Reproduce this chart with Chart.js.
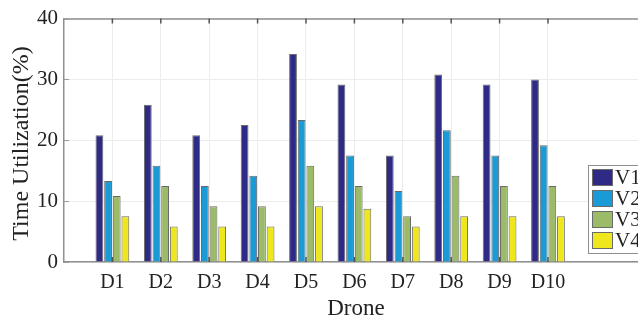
<!DOCTYPE html>
<html>
<head>
<meta charset="utf-8">
<script src="https://cdn.jsdelivr.net/npm/chart.js@4/dist/chart.umd.min.js"></script>
<style>
  html, body { margin: 0; padding: 0; background: #ffffff; }
  #wrap { width: 638px; height: 321px; }
</style>
</head>
<body>
<div id="wrap"><canvas id="c" width="638" height="321"></canvas></div>
<script>
// Drones on the x axis
const drones = ['D1', 'D2', 'D3', 'D4', 'D5', 'D6', 'D7', 'D8', 'D9', 'D10'];
// Time utilization (%) per drone for each vehicle
const v1 = [20.83, 25.83, 20.83, 22.5, 34.17, 29.17, 17.5, 30.83, 29.17, 30.0];
const v2 = [13.33, 15.83, 12.5, 14.17, 23.33, 17.5, 11.67, 21.67, 17.5, 19.17];
const v3 = [10.83, 12.5, 9.17, 9.17, 15.83, 12.5, 7.5, 14.17, 12.5, 12.5];
const v4 = [7.5, 5.83, 5.83, 5.83, 9.17, 8.75, 5.83, 7.5, 7.5, 7.5];
const seriesNames = ['V1', 'V2', 'V3', 'V4'];
const seriesColors = ['#2f2a86', '#1b9bd6', '#9bbb69', '#efe71d'];
const yTicks = [0, 10, 20, 30, 40];
const xTitle = 'Drone';
const yTitle = 'Time Utilization(%)';

const serif = "'Liberation Serif', 'Times New Roman', serif";

function toPoints(arr) {
  return arr.map((v, i) => ({ x: i + 1, y: v }));
}

const datasets = [v1, v2, v3, v4].map((arr, k) => ({
  label: seriesNames[k],
  data: toPoints(arr),
  backgroundColor: seriesColors[k],
  borderColor: '#6a6a6a',
  borderWidth: 1,
  categoryPercentage: 0.715,
  barPercentage: 0.9
}));

// Inward tick marks, top frame line, axis titles and the boxed legend
const frame = {
  id: 'frame',
  afterDatasetsDraw(chart) {
    const { ctx, chartArea: a, scales } = chart;
    ctx.save();
    // top border of the axes box
    ctx.strokeStyle = '#8f8f8f';
    ctx.lineWidth = 1.5;
    ctx.beginPath();
    ctx.moveTo(a.left, a.top + 0.5);
    ctx.lineTo(a.right, a.top + 0.5);
    ctx.stroke();
    // x tick marks pointing inward
    ctx.strokeStyle = '#555555';
    ctx.lineWidth = 1.5;
    drones.forEach((_, i) => {
      const px = scales.x.getPixelForValue(i + 1);
      ctx.beginPath();
      ctx.moveTo(px, a.bottom);
      ctx.lineTo(px, a.bottom - 5);
      ctx.moveTo(px, a.top);
      ctx.lineTo(px, a.top + 5);
      ctx.stroke();
    });
    // y tick marks pointing inward
    ctx.strokeStyle = '#9a9a9a';
    ctx.lineWidth = 1;
    yTicks.forEach(v => {
      const py = Math.round(scales.y.getPixelForValue(v)) + 0.5;
      ctx.beginPath();
      ctx.moveTo(a.left, py);
      ctx.lineTo(a.left + 5, py);
      ctx.stroke();
    });

    // axis titles (the axes box runs a little past the right canvas edge)
    ctx.fillStyle = '#222222';
    ctx.font = '23px ' + serif;
    ctx.textAlign = 'center';
    ctx.textBaseline = 'alphabetic';
    ctx.fillText(xTitle, 356, 315);
    ctx.save();
    ctx.font = '24px ' + serif;
    ctx.translate(28, 143.5);
    ctx.rotate(-Math.PI / 2);
    ctx.fillText(yTitle, 0, 0);
    ctx.restore();

    // legend box
    const bx = 588, by = 165, bw = 70, rowH = 21;
    const bh = rowH * chart.data.datasets.length + 4;
    ctx.fillStyle = '#ffffff';
    ctx.fillRect(bx, by, bw, bh);
    ctx.strokeStyle = '#8f8f8f';
    ctx.lineWidth = 1;
    ctx.strokeRect(bx + 0.5, by + 0.5, bw, bh);
    ctx.font = '21px ' + serif;
    ctx.textBaseline = 'middle';
    ctx.textAlign = 'left';
    chart.data.datasets.forEach((ds, k) => {
      const sy = by + 4 + k * rowH;
      ctx.fillStyle = ds.backgroundColor;
      ctx.fillRect(bx + 4, sy, 21, 17);
      ctx.strokeStyle = '#6a6a6a';
      ctx.strokeRect(bx + 4.5, sy + 0.5, 20, 16);
      ctx.fillStyle = '#222222';
      ctx.fillText(ds.label, bx + 27, sy + 9);
    });
    ctx.restore();
  }
};

new Chart(document.getElementById('c'), {
  type: 'bar',
  data: { datasets },
  plugins: [frame],
  options: {
    responsive: false,
    animation: false,
    layout: { padding: { top: 14, right: 0, left: 0, bottom: 0 } },
    plugins: {
      legend: { display: false },
      tooltip: { enabled: false }
    },
    scales: {
      x: {
        type: 'linear',
        min: 0,
        max: 11.86,
        offset: false,
        afterBuildTicks(scale) {
          scale.ticks = drones.map((_, i) => ({ value: i + 1 }));
        },
        afterFit(scale) { scale.height = 59; },
        ticks: {
          autoSkip: false,
          maxRotation: 0,
          padding: 9,
          color: '#222222',
          font: { family: serif, size: 20 },
          callback: (v) => drones[v - 1] || ''
        },
        grid: { color: '#ececec', lineWidth: 1, drawTicks: false, offset: false },
        border: { color: '#8f8f8f', width: 1.5 }
      },
      y: {
        min: 0,
        max: 40,
        afterBuildTicks(scale) {
          scale.ticks = yTicks.map(v => ({ value: v }));
        },
        afterFit(scale) { scale.width = 64; },
        ticks: {
          padding: 6,
          color: '#222222',
          font: { family: serif, size: 21 }
        },
        grid: { color: '#ececec', lineWidth: 1, drawTicks: false },
        border: { color: '#8f8f8f', width: 1.5 }
      }
    }
  }
});
</script>
</body>
</html>
